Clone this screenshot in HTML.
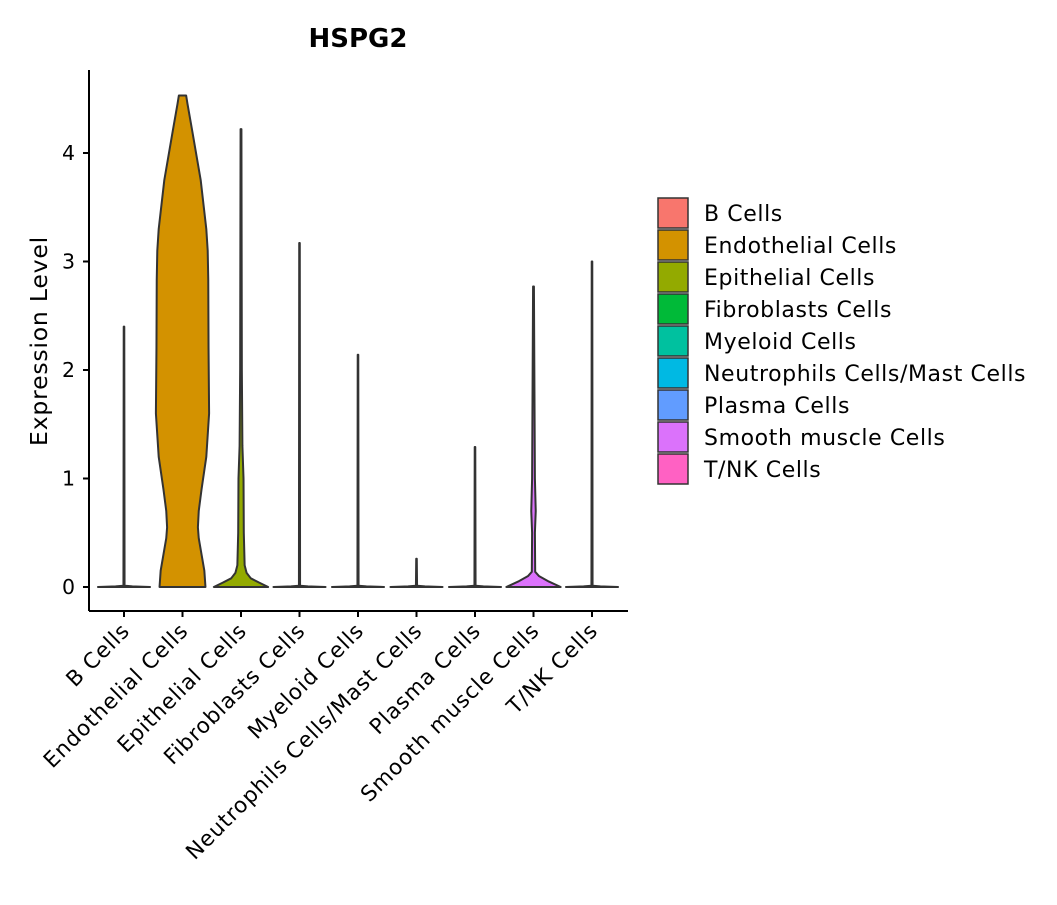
<!DOCTYPE html>
<html><head><meta charset="utf-8">
<style>
body{margin:0;background:#fff;}
svg text{font-family:"DejaVu Sans","Liberation Sans",sans-serif;fill:#000;}
</style></head>
<body>
<svg id="chart" width="1057" height="900" viewBox="0 0 1057 900">
<text x="358" y="47" text-anchor="middle" font-size="26" font-weight="bold">HSPG2</text>
<text transform="translate(47,341) rotate(-90)" text-anchor="middle" font-size="23.5" letter-spacing="0.8">Expression Level</text>
<g id="plot"></g>
<g id="legend"></g>
</svg>
<script>
const categories=["B Cells","Endothelial Cells","Epithelial Cells","Fibroblasts Cells","Myeloid Cells","Neutrophils Cells/Mast Cells","Plasma Cells","Smooth muscle Cells","T/NK Cells"];
const colors=["#F8766D","#D39200","#93AA00","#00BA38","#00C19F","#00B9E3","#619CFF","#DB72FB","#FF61C3"];
const yTicks=[0,1,2,3,4];
// violin profiles: [value, relative density 0..1]
const prof0=[[0,0.93],[0.006,0.3],[0.012,0.02],[2.4,0.01]];
const prof1=[[0,0.82],[0.15,0.78],[0.3,0.68],[0.45,0.58],[0.55,0.55],[0.7,0.58],[0.9,0.68],[1.2,0.85],[1.6,0.95],[2.2,0.93],[2.83,0.92],[3.1,0.9],[3.3,0.85],[3.75,0.65],[4.2,0.35],[4.45,0.18],[4.53,0.13]];
const prof2=[[0,0.97],[0.04,0.65],[0.08,0.35],[0.13,0.2],[0.2,0.13],[0.5,0.1],[1.0,0.09],[1.3,0.05],[2.0,0.03],[4.22,0.015]];
const prof3=[[0,0.93],[0.006,0.3],[0.012,0.02],[3.17,0.01]];
const prof4=[[0,0.93],[0.006,0.3],[0.012,0.02],[2.14,0.01]];
const prof5=[[0,0.93],[0.006,0.3],[0.012,0.02],[0.26,0.01]];
const prof6=[[0,0.93],[0.006,0.3],[0.012,0.02],[1.29,0.01]];
const prof7=[[0,0.97],[0.05,0.55],[0.1,0.2],[0.14,0.06],[0.5,0.05],[0.7,0.08],[1.0,0.05],[1.5,0.04],[2.77,0.015]];
const prof8=[[0,0.93],[0.006,0.3],[0.012,0.02],[3.0,0.01]];
const profiles=[prof0,prof1,prof2,prof3,prof4,prof5,prof6,prof7,prof8];

const ns="http://www.w3.org/2000/svg";
const L=89,R=628,T=70,B=611;
const y=v=>587-v*108.5;
const step=58.5;
const x=i=>124+step*i;
const maxHalf=28;
const plot=document.getElementById('plot');
function mk(t,a,p){const e=document.createElementNS(ns,t);for(const k in a)e.setAttribute(k,a[k]);(p||plot).appendChild(e);return e;}
profiles.forEach((pr,i)=>{
  const cx=x(i);
  let d="M"+(cx+pr[0][1]*maxHalf)+","+y(pr[0][0]);
  for(let j=1;j<pr.length;j++)d+=" L"+(cx+pr[j][1]*maxHalf)+","+y(pr[j][0]);
  for(let j=pr.length-1;j>=0;j--)d+=" L"+(cx-pr[j][1]*maxHalf)+","+y(pr[j][0]);
  d+="Z";
  const p=mk('path',{d:d,fill:colors[i],stroke:"#333","stroke-width":2,"stroke-linejoin":"round"});
  
  
});
mk('line',{x1:L,y1:T,x2:L,y2:B,stroke:"#000","stroke-width":2});
mk('line',{x1:L,y1:B,x2:R,y2:B,stroke:"#000","stroke-width":2});
yTicks.forEach(v=>{
  mk('line',{x1:L-6,y1:y(v),x2:L,y2:y(v),stroke:"#000","stroke-width":2});
  const t=mk('text',{x:L-14,y:y(v)+7,"text-anchor":"end","font-size":20.5});
  t.textContent=v;
  
  
});
categories.forEach((c,i)=>{
  mk('line',{x1:x(i),y1:B,x2:x(i),y2:B+6,stroke:"#000","stroke-width":2});
  const t=mk('text',{transform:`translate(${x(i)+7},${B+21}) rotate(-45)`,"text-anchor":"end","font-size":21.5,"letter-spacing":0.9});
  t.textContent=c;
  
  
});
const lg=document.getElementById('legend');
categories.forEach((c,i)=>{
  const yy=198+i*32;
  const r=mk('rect',{x:658,y:yy,width:30,height:30,fill:colors[i],stroke:"#333","stroke-width":1.5},lg);
  
  
  const t=mk('text',{x:704,y:yy+23,"font-size":22,"letter-spacing":0.6},lg);
  t.textContent=c;
  
  
});
</script>
</body></html>
